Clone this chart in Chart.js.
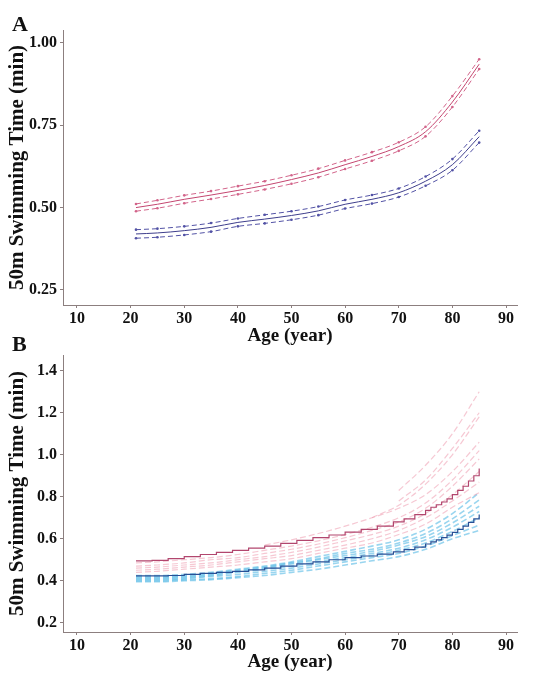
<!DOCTYPE html>
<html>
<head>
<meta charset="utf-8">
<script src="https://cdn.jsdelivr.net/npm/chart.js@4.4.1/dist/chart.umd.min.js"></script>
<style>
  html, body { margin: 0; padding: 0; background: #fff; }
  body { width: 543px; height: 683px; position: relative; overflow: hidden; }
  canvas { position: absolute; left: 0; }
  #chartA { top: 0; }
  #chartB { top: 340px; }
  .panel { position: absolute; left: 12px; z-index: 2; line-height: 1;
           font: bold 22px "Liberation Serif", "DejaVu Serif", serif; color: #111; }
</style>
</head>
<body>
<canvas id="chartA" width="543" height="346"></canvas>
<canvas id="chartB" width="543" height="343"></canvas>
<div class="panel" style="top:11px">A</div>
<div class="panel" style="top:331px">B</div>
<script>
// x ticks shared by both panels
const ageTicks = [10, 20, 30, 40, 50, 60, 70, 80, 90];
const timeTicksA = [0.25, 0.50, 0.75, 1.00];
const timeTicksB = [0.2, 0.4, 0.6, 0.8, 1.0, 1.2, 1.4];

// panel A: median curve with upper/lower bands
const agesA = [21, 25, 30, 35, 40, 45, 50, 55, 60, 65, 70, 75, 80, 85];
const womenMidA = [0.500, 0.510, 0.525, 0.538, 0.552, 0.567, 0.585, 0.605, 0.630, 0.655, 0.685, 0.730, 0.820, 0.935];
const womenHiA  = [0.511, 0.522, 0.537, 0.550, 0.565, 0.580, 0.598, 0.618, 0.643, 0.668, 0.698, 0.745, 0.838, 0.950];
const womenLoA  = [0.489, 0.498, 0.513, 0.526, 0.540, 0.555, 0.572, 0.592, 0.617, 0.642, 0.672, 0.716, 0.805, 0.920];
const menMidA   = [0.420, 0.423, 0.430, 0.440, 0.455, 0.465, 0.476, 0.490, 0.510, 0.525, 0.545, 0.580, 0.630, 0.715];
const menHiA    = [0.433, 0.436, 0.443, 0.453, 0.467, 0.478, 0.489, 0.503, 0.523, 0.538, 0.558, 0.594, 0.647, 0.733];
const menLoA    = [0.407, 0.410, 0.417, 0.427, 0.443, 0.452, 0.463, 0.477, 0.497, 0.512, 0.532, 0.566, 0.613, 0.697];

// panel B: stepped median plus faint individual curves
const agesB = [21, 24, 27, 30, 33, 36, 39, 42, 45, 48, 51, 54, 57, 60, 63, 66, 69, 71, 73, 75, 76, 77, 78, 79, 80, 81, 82, 83, 84, 85];
const womenStepB = [0.495, 0.497, 0.505, 0.515, 0.525, 0.535, 0.545, 0.555, 0.565, 0.578, 0.592, 0.605, 0.618, 0.632, 0.645, 0.660, 0.680, 0.695, 0.715, 0.735, 0.750, 0.762, 0.775, 0.790, 0.810, 0.830, 0.850, 0.875, 0.900, 0.935];
const menStepB   = [0.423, 0.423, 0.425, 0.430, 0.435, 0.440, 0.445, 0.452, 0.460, 0.470, 0.480, 0.490, 0.500, 0.510, 0.518, 0.527, 0.538, 0.548, 0.560, 0.575, 0.585, 0.595, 0.605, 0.617, 0.630, 0.645, 0.660, 0.678, 0.695, 0.715];

const agesFaint = [21, 25, 30, 35, 40, 45, 50, 55, 60, 65, 70, 75, 80, 85];
const womenFaintB = [
  [0.485, 0.490, 0.500, 0.510, 0.525, 0.545, 0.565, 0.590, 0.620, 0.655, 0.700, 0.770, 0.880, 1.020],
  [0.470, 0.475, 0.485, 0.500, 0.510, 0.530, 0.550, 0.575, 0.605, 0.640, 0.680, 0.745, 0.850, 0.980],
  [0.460, 0.465, 0.475, 0.485, 0.500, 0.515, 0.535, 0.560, 0.590, 0.620, 0.660, 0.720, 0.810, 0.920],
  [0.450, 0.455, 0.465, 0.475, 0.490, 0.505, 0.520, 0.545, 0.570, 0.600, 0.640, 0.700, 0.780, 0.870],
  [0.440, 0.445, 0.455, 0.465, 0.475, 0.490, 0.505, 0.530, 0.555, 0.580, 0.620, 0.670, 0.750, 0.820],
  [null, null, null, null, null, 0.570, 0.595, 0.625, 0.660, 0.700, 0.745, 0.810, 0.920, 1.060],
  [null, null, null, null, null, null, null, null, null, 0.700, 0.760, 0.860, 1.000, 1.180],
  [null, null, null, null, null, null, null, null, null, null, 0.830, 0.950, 1.100, 1.300],
  [null, null, null, null, null, null, null, null, null, null, 0.780, 0.880, 1.030, 1.200]
];
const menFaintB = [
  [0.425, 0.425, 0.430, 0.440, 0.455, 0.470, 0.490, 0.515, 0.540, 0.565, 0.595, 0.645, 0.720, 0.820],
  [0.420, 0.420, 0.425, 0.435, 0.450, 0.465, 0.485, 0.505, 0.530, 0.550, 0.580, 0.625, 0.695, 0.785],
  [0.415, 0.415, 0.420, 0.430, 0.445, 0.460, 0.480, 0.500, 0.520, 0.540, 0.570, 0.610, 0.675, 0.755],
  [0.410, 0.410, 0.415, 0.425, 0.440, 0.455, 0.470, 0.490, 0.510, 0.530, 0.555, 0.595, 0.655, 0.730],
  [0.405, 0.405, 0.410, 0.420, 0.430, 0.445, 0.460, 0.480, 0.500, 0.520, 0.545, 0.580, 0.635, 0.700],
  [0.400, 0.400, 0.405, 0.410, 0.420, 0.435, 0.450, 0.470, 0.490, 0.510, 0.530, 0.565, 0.615, 0.665],
  [0.395, 0.395, 0.400, 0.405, 0.415, 0.425, 0.440, 0.455, 0.475, 0.495, 0.515, 0.550, 0.600, 0.640]
];

const serif = '"Liberation Serif", "DejaVu Serif", serif';
const axisColor = '#8c7f7f';

function pts(xs, ys) {
  return xs.map((x, i) => ({ x: x, y: ys[i] }));
}

function line(xs, ys, color, extra) {
  return Object.assign({
    data: pts(xs, ys),
    borderColor: color,
    backgroundColor: color,
    borderWidth: 1,
    pointRadius: 0,
    fill: false,
    spanGaps: false,
    cubicInterpolationMode: 'monotone'
  }, extra || {});
}

function xAxis(height, titlePad) {
  return {
    type: 'linear',
    min: 7.39,
    max: 92.05,
    afterBuildTicks: (s) => { s.ticks = ageTicks.map(v => ({ value: v })); },
    afterFit: (s) => { s.height = height; },
    grid: { drawOnChartArea: false, tickLength: 3, color: axisColor },
    border: { color: axisColor, width: 1 },
    ticks: { color: '#111', padding: 1, maxRotation: 0, font: { family: serif, size: 16, weight: 'bold' } },
    title: {
      display: true, text: 'Age (year)', color: '#111',
      padding: { top: 0, bottom: titlePad },
      font: { family: serif, size: 19, weight: 'bold', lineHeight: 1 }
    }
  };
}

function yAxis(min, max, ticks, digits) {
  return {
    type: 'linear',
    min: min,
    max: max,
    afterBuildTicks: (s) => { s.ticks = ticks.map(v => ({ value: v })); },
    afterFit: (s) => { s.width = 56; },
    grid: { drawOnChartArea: false, tickLength: 3, color: axisColor },
    border: { color: axisColor, width: 1 },
    ticks: {
      color: '#111', padding: 3,
      font: { family: serif, size: 16, weight: 'bold' },
      callback: (v) => Number(v).toFixed(digits)
    },
    title: {
      display: true, text: '50m Swimming Time (min)', color: '#111',
      padding: 0,
      font: { family: serif, size: 21, weight: 'bold', lineHeight: 1 }
    }
  };
}

const baseOptions = {
  responsive: false,
  animation: false,
  events: [],
  plugins: { legend: { display: false }, tooltip: { enabled: false } }
};

const womenA = 'rgb(196,70,112)';
const womenBandA = 'rgb(210,100,138)';
const menA = 'rgb(62,62,140)';
const menBandA = 'rgb(82,82,165)';
const bandStyle = (c) => ({ borderDash: [5, 3], pointRadius: 1.3, pointBackgroundColor: c, pointBorderWidth: 0 });

new Chart(document.getElementById('chartA'), {
  type: 'line',
  data: {
    datasets: [
      line(agesA, womenMidA, womenA),
      line(agesA, womenHiA, womenBandA, bandStyle(womenBandA)),
      line(agesA, womenLoA, womenBandA, bandStyle(womenBandA)),
      line(agesA, menMidA, menA),
      line(agesA, menHiA, menBandA, bandStyle(menBandA)),
      line(agesA, menLoA, menBandA, bandStyle(menBandA))
    ]
  },
  options: Object.assign({}, baseOptions, {
    layout: { padding: { top: 30, left: 7, right: 26, bottom: 0 } },
    scales: {
      x: xAxis(41, 0),
      y: yAxis(0.2045, 1.0385, timeTicksA, 2)
    }
  })
});

const womenB = 'rgb(178,70,110)';
const menB = 'rgb(40,80,150)';
const womenFaint = 'rgba(238,145,168,0.5)';
const menFaint = 'rgba(70,178,225,0.55)';

const datasetsB = [
  line(agesB, womenStepB, womenB, { stepped: true, borderWidth: 1.2 }),
  line(agesB, menStepB, menB, { stepped: true, borderWidth: 1.2 })
];
womenFaintB.forEach(ys => datasetsB.push(line(agesFaint, ys, womenFaint, { borderDash: [6, 3], borderWidth: 1.2 })));
menFaintB.forEach(ys => datasetsB.push(line(agesFaint, ys, menFaint, { borderDash: [6, 3], borderWidth: 1.6 })));

new Chart(document.getElementById('chartB'), {
  type: 'line',
  data: { datasets: datasetsB },
  options: Object.assign({}, baseOptions, {
    layout: { padding: { top: 15, left: 7, right: 26, bottom: 0 } },
    scales: {
      x: xAxis(51, 11),
      y: yAxis(0.156, 1.475, timeTicksB, 1)
    }
  })
});
</script>
</body>
</html>
